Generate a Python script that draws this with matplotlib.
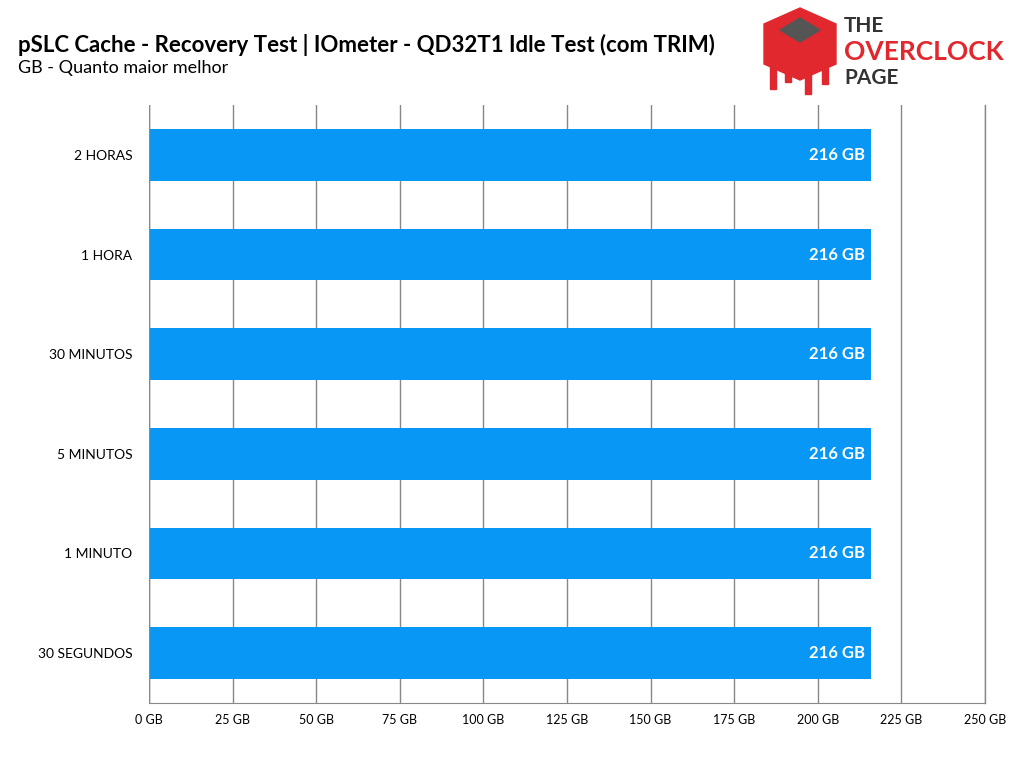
import matplotlib
matplotlib.use("Agg")
import matplotlib.pyplot as plt
from matplotlib.patches import Rectangle, Polygon

categories = ["30 SEGUNDOS", "1 MINUTO", "5 MINUTOS", "30 MINUTOS", "1 HORA", "2 HORAS"]
values = [216, 216, 216, 216, 216, 216]
ticks = [0, 25, 50, 75, 100, 125, 150, 175, 200, 225, 250]

plt.rcParams['font.family'] = ['Lato', 'DejaVu Sans']
fig = plt.figure(figsize=(10.24, 7.68), dpi=100)
ax = fig.add_axes([149/1024, 1-703/768, 836/1024, 598/768])
y = range(len(categories))
ax.barh(y, values, height=0.52, color='#0897f5', zorder=3)
for i, v in zip(y, values):
    ax.text(v - 2, i, f"{v} GB", ha='right', va='center', color='white',
            fontsize=12, fontweight='bold', zorder=4)
ax.set_xlim(0, 250)
ax.set_ylim(-0.5, len(categories) - 0.5)
ax.set_xticks(ticks)
ax.set_xticklabels([f"{t} GB" for t in ticks], fontsize=9)
ax.set_yticks(list(y))
ax.set_yticklabels(categories, fontsize=10)
ax.grid(axis='x', color='#888888', linewidth=1, zorder=0)
for s in ['top', 'right', 'left']:
    ax.spines[s].set_visible(False)
ax.spines['bottom'].set_color('#888888')
ax.axvline(0, color='#888888', linewidth=1, zorder=5)
ax.axvline(250, color='#888888', linewidth=1, zorder=0, clip_on=False)
ax.tick_params(axis='both', length=0, pad=12)
ax.tick_params(axis='x', pad=8)

fig.text(18/1024, 1-45/768, "pSLC Cache - Recovery Test | IOmeter - QD32T1 Idle Test (com TRIM)",
         fontsize=16, fontweight='bold', va='center')
fig.text(18/1024, 1-68/768, "GB - Quanto maior melhor", fontsize=13, va='center')

# logo
la = fig.add_axes([760/1024, 1-98/768, 260/1024, 94/768])
la.set_xlim(0, 260); la.set_ylim(94, 0); la.axis('off')
la.add_patch(Polygon([[4, 20], [40, 4], [76, 20], [76, 60], [40, 76], [4, 60]], color='#e0282e'))
la.add_patch(Polygon([[20, 26], [40, 14], [60, 26], [40, 38]], color='#555555'))
for xx, hh in [(10, 85), (25, 78), (45, 90), (62, 80)]:
    la.add_patch(Rectangle((xx, 50), 6, hh - 50, color='#e0282e'))
la.text(84, 22, "THE", fontsize=15, fontweight='bold', color='#333333', va='center')
la.text(84, 48, "OVERCLOCK", fontsize=19, fontweight='bold', color='#e0282e', va='center')
la.text(84, 74, "PAGE", fontsize=15, fontweight='bold', color='#333333', va='center')

fig.savefig("out.png", dpi=100)
